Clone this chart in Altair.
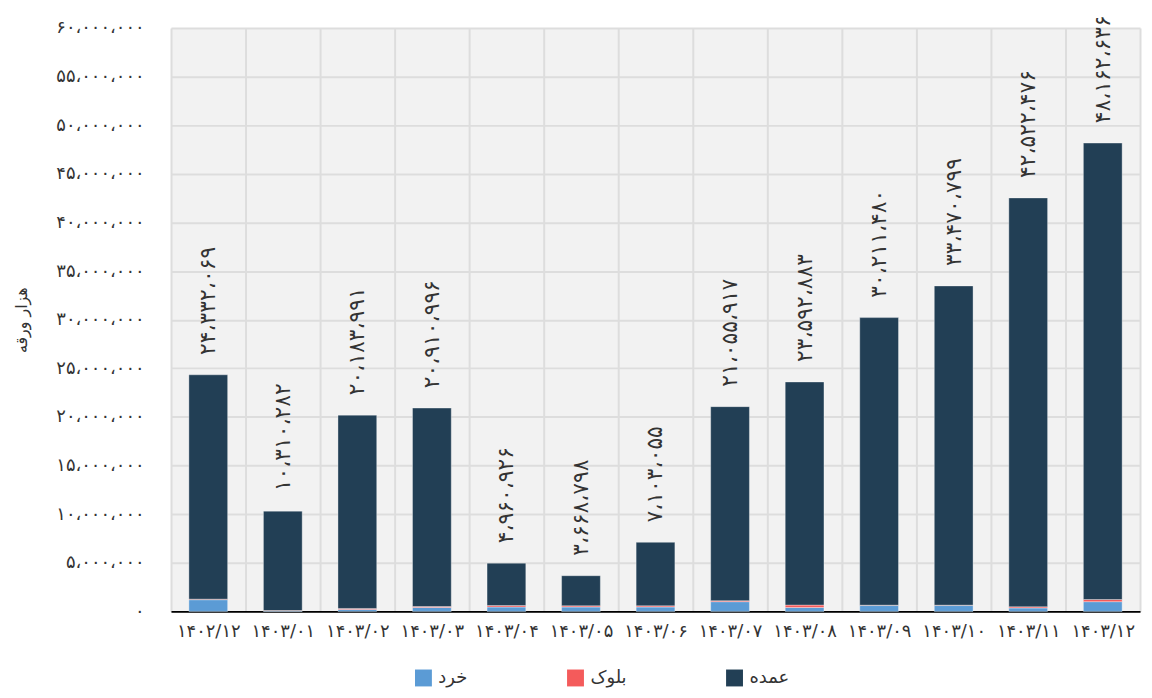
import altair as alt
import pandas as pd

# categories (Persian months)
cats = ["۱۴۰۲/۱۲", "۱۴۰۳/۰۱", "۱۴۰۳/۰۲", "۱۴۰۳/۰۳", "۱۴۰۳/۰۴", "۱۴۰۳/۰۵", "۱۴۰۳/۰۶",
        "۱۴۰۳/۰۷", "۱۴۰۳/۰۸", "۱۴۰۳/۰۹", "۱۴۰۳/۱۰", "۱۴۰۳/۱۱", "۱۴۰۳/۱۲"]

# total labels shown above bars
totals = [24332069, 10310282, 20183991, 20910996, 4960926, 3668798, 7103055,
          21055917, 23592883, 30211480, 33470799, 42522476, 48162636]

# series
khord = [1200000, 50000, 200000, 400000, 450000, 450000, 450000,
         1000000, 400000, 600000, 600000, 350000, 1000000]
block = [60000, 40000, 100000, 100000, 150000, 120000, 120000,
         100000, 250000, 40000, 40000, 120000, 220000]
omde = [23072069, 10220282, 19883991, 20410996, 4360926, 3098798, 6533055,
        19955917, 22942883, 29571480, 32830799, 42052476, 46942636]

series_names = ["خرد", "بلوک", "عمده"]
series_colors = ["#5b9bd5", "#f45b5b", "#223f55"]
y_ticks = [i * 5000000 for i in range(13)]

FA = "۰۱۲۳۴۵۶۷۸۹"


def to_fa(n):
    s = f"{n:,}".replace(",", "،")
    return "".join(FA[int(c)] if c.isdigit() else c for c in s)


rows = []
for i, c in enumerate(cats):
    for k, (name, vals) in enumerate(zip(series_names, [khord, block, omde])):
        rows.append({"cat": c, "series": name, "value": vals[i], "ord": k})
df = pd.DataFrame(rows)

lab = pd.DataFrame({"cat": cats, "total": totals, "label": [to_fa(t) for t in totals]})

# y label expression: western digits -> Persian digits
expr = "format(datum.value, ',')"
expr = f"replace({expr}, regexp(',', 'g'), '،')"
for d in range(10):
    expr = f"replace({expr}, regexp('{d}', 'g'), '{FA[d]}')"

FONT = "DejaVu Sans"

x_enc = alt.X("cat:N", sort=cats, title=None,
              scale=alt.Scale(paddingInner=0, paddingOuter=0),
              axis=alt.Axis(labelAngle=0, labelFontSize=18, labelColor="#333333",
                            labelFont=FONT, labelPadding=11,
                            domainColor="#000000", domainWidth=2, ticks=False,
                            grid=True, tickBand="extent", gridColor="#dddddd", gridWidth=2))

y_scale = alt.Scale(domain=[0, 60000000], nice=False)

bars = alt.Chart(df).mark_bar(width={"band": 0.52}, stroke="#ffffff",
                              strokeWidth=1, strokeOpacity=0.35).encode(
    x=x_enc,
    y=alt.Y("value:Q", stack="zero", scale=y_scale, title="هزار ورقه",
            axis=alt.Axis(values=y_ticks, labelExpr=expr, labelFontSize=18,
                          labelColor="#333333", labelFont=FONT, labelPadding=27,
                          domain=False, ticks=False, gridColor="#dddddd", gridWidth=2,
                          titleFont=FONT, titleFontSize=16, titleFontWeight="normal",
                          titleColor="#333333", titlePadding=26)),
    color=alt.Color("series:N",
                    scale=alt.Scale(domain=series_names, range=series_colors),
                    legend=alt.Legend(title=None, orient="none", legendX=245, legendY=645,
                                      direction="horizontal", symbolType="square",
                                      symbolSize=289, symbolStrokeWidth=0,
                                      labelFontSize=18, labelFont=FONT,
                                      labelColor="#333333", columnPadding=99,
                                      labelOffset=6, padding=0)),
    order=alt.Order("ord:Q", sort="ascending"),
)

texts = alt.Chart(lab).mark_text(angle=270, align="left", baseline="middle",
                                 dx=20, fontSize=22, font=FONT, color="#333333").encode(
    x=alt.X("cat:N", sort=cats),
    y=alt.Y("total:Q", scale=y_scale),
    text="label:N",
)

chart = alt.layer(bars, texts).properties(
    width=975, height=587,
    autosize=alt.AutoSizeParams(type="none"),
    padding={"left": 164, "top": 18, "right": 4, "bottom": 77},
    background="#ffffff",
).configure_view(fill="#f2f2f2", stroke=None)

chart.save("out.html", embed_options={"renderer": "svg", "actions": False})
